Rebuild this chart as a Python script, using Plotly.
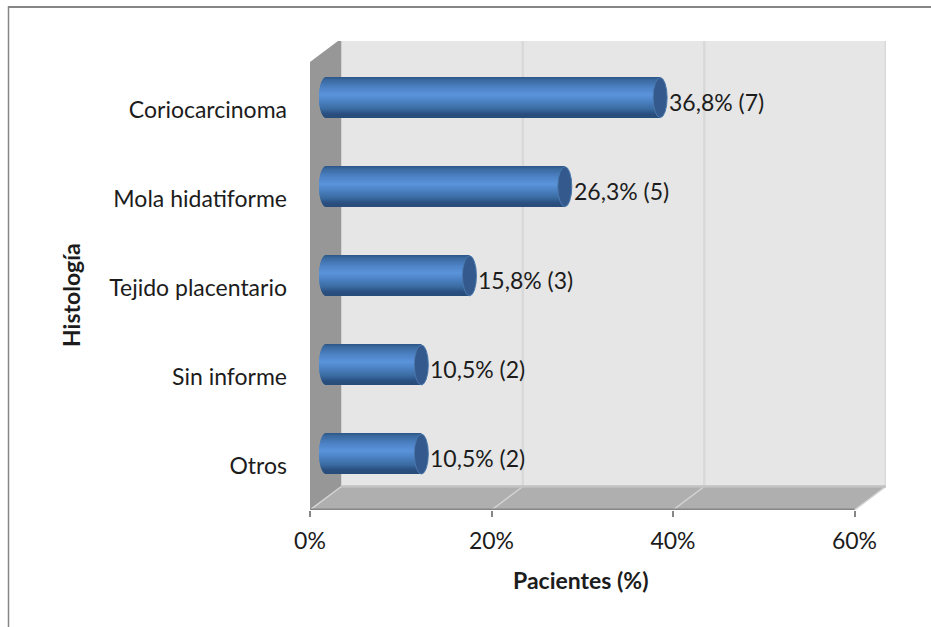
import math
import plotly.graph_objects as go

# Histology groups, top to bottom, with patient share (%) and patient count
categories = ["Coriocarcinoma", "Mola hidatiforme", "Tejido placentario", "Sin informe", "Otros"]
percent = [36.8, 26.3, 15.8, 10.5, 10.5]
counts = [7, 5, 3, 2, 2]
x_ticks = [0, 20, 40, 60]
x_tick_labels = ["0%", "20%", "40%", "60%"]

W, H = 931, 627
LEFT, RIGHT, TOP, BOTTOM = 310, 886, 41, 510   # plot box holding the whole 3D frame
PX_PER_PCT = 9.075
PX_PER_CAT = 89.0
FRONT_TOP = 62                                 # top of the box's front plane
DEPTH_X, DEPTH_Y = 3.45, 23.5 / PX_PER_CAT     # depth of the box in axis units

# Cylinders sit mid-depth, so they get their own slightly shifted axes
BAR_X0, BAR_PX_PER_PCT = 326, 9.08
BAR_PX_PER_CAT, BAR_BOTTOM_CENTRE = 89.1, 454
BAR_PX_HEIGHT = 40
CAP_PX = 7

INK = "#1c1c1c"
FONT = "Lato"
y_order = categories[::-1]


def paper_x(px):
    return (px - LEFT) / (RIGHT - LEFT)


def paper_y(px):
    return (BOTTOM - px) / (BOTTOM - TOP)


def mix(stops, t):
    for (t0, c0), (t1, c1) in zip(stops, stops[1:]):
        if t <= t1:
            f = (t - t0) / (t1 - t0)
            rgb = [round(c0[k] + (c1[k] - c0[k]) * f) for k in range(3)]
            return f"rgb({rgb[0]},{rgb[1]},{rgb[2]})"
    return f"rgb{stops[-1][1]}"


# Shading across the cylinder, top edge to bottom edge
SHADE = [
    (0.00, (44, 86, 134)),
    (0.08, (58, 106, 160)),
    (0.28, (78, 132, 200)),
    (0.45, (90, 147, 218)),
    (0.60, (76, 131, 196)),
    (0.80, (58, 106, 160)),
    (0.92, (42, 80, 128)),
    (1.00, (40, 76, 122)),
]

fig = go.Figure()

# Horizontal slices with a rounded left end give the cylinder body
BANDS = BAR_PX_HEIGHT
band_h = 1 / BAR_PX_PER_CAT
cap_pct = CAP_PX / BAR_PX_PER_PCT
for i in range(BANDS):
    t = (i + 0.5) / BANDS
    bulge = cap_pct * math.sqrt(max(0.0, 1 - (2 * t - 1) ** 2))
    fig.add_trace(go.Bar(
        orientation="h",
        y=categories,
        x=[v + bulge for v in percent],
        base=bulge * -1,
        width=band_h * 1.25,
        offset=(BANDS / 2 - i - 1) * band_h,
        marker=dict(color=mix(SHADE, t), line=dict(width=0)),
        xaxis="x2",
        yaxis="y2",
        hoverinfo="skip",
        showlegend=False,
    ))

shapes = []


def wall(points, fill):
    path = "M " + " L ".join(f"{x},{y}" for x, y in points) + " Z"
    shapes.append(dict(type="path", path=path, xref="x", yref="y", layer="below",
                       fillcolor=fill, line=dict(width=0)))


def rule(x0, y0, x1, y1, color, width):
    shapes.append(dict(type="line", x0=x0, y0=y0, x1=x1, y1=y1, xref="x", yref="y",
                       layer="below", line=dict(color=color, width=width)))


y_lo, y_hi = -0.5, -0.5 + (BOTTOM - FRONT_TOP) / PX_PER_CAT
x_hi = x_ticks[-1]

# Back wall, side wall and floor of the box
wall([(DEPTH_X, y_lo + DEPTH_Y), (x_hi + DEPTH_X, y_lo + DEPTH_Y),
      (x_hi + DEPTH_X, y_hi + DEPTH_Y), (DEPTH_X, y_hi + DEPTH_Y)], "#e6e6e6")
wall([(0, y_lo), (DEPTH_X, y_lo + DEPTH_Y), (DEPTH_X, y_hi + DEPTH_Y), (0, y_hi)], "#979797")
wall([(0, y_lo), (x_hi, y_lo), (x_hi + DEPTH_X, y_lo + DEPTH_Y), (DEPTH_X, y_lo + DEPTH_Y)], "#afafaf")

# Gridlines run up the back wall and forward across the floor
for tick in x_ticks:
    if tick > 0:
        rule(tick + DEPTH_X, y_lo + DEPTH_Y, tick + DEPTH_X, y_hi + DEPTH_Y, "#d9d9d9", 2.5)
    rule(tick, y_lo, tick + DEPTH_X, y_lo + DEPTH_Y, "#d4d4d4", 1.5)
rule(DEPTH_X, y_hi + DEPTH_Y, x_hi + DEPTH_X, y_hi + DEPTH_Y, "#dddddd", 1.5)
rule(DEPTH_X, y_lo + DEPTH_Y, x_hi + DEPTH_X, y_lo + DEPTH_Y, "#c2c2c2", 2.5)
rule(0, y_lo, x_hi, y_lo, "#868686", 3)

# Flat end of each cylinder
cat_span = (BAR_PX_HEIGHT / 2) / BAR_PX_PER_CAT
for pos, v in zip(range(len(categories)), percent):
    level = len(categories) - 1 - pos
    shapes.append(dict(type="circle", xref="x2", yref="y2", layer="above",
                       x0=v - cap_pct, x1=v + cap_pct,
                       y0=level - cat_span, y1=level + cat_span,
                       fillcolor="#34598c", line=dict(color="#4a78ad", width=1)))

# Outer chart frame, open at the right and at the bottom
frame = "#868686"
shapes.append(dict(type="line", xref="paper", yref="paper", layer="above",
                   x0=paper_x(8), x1=paper_x(W), y0=paper_y(7), y1=paper_y(7),
                   line=dict(color=frame, width=2)))
shapes.append(dict(type="line", xref="paper", yref="paper", layer="above",
                   x0=paper_x(8.5), x1=paper_x(8.5), y0=paper_y(6), y1=paper_y(H),
                   line=dict(color=frame, width=1.5)))

# Value labels beside the cylinders
annotations = []
for name, v, n in zip(categories, percent, counts):
    annotations.append(dict(
        x=v, y=name, xref="x2", yref="y2",
        text=f"{v:.1f}".replace(".", ",") + f"% ({n})",
        showarrow=False, xanchor="left", yanchor="middle",
        xshift=CAP_PX, yshift=-4,
        font=dict(family=FONT, size=23, color=INK),
    ))

# Axis titles
annotations.append(dict(
    x=paper_x(581), y=paper_y(580), xref="paper", yref="paper",
    text="<b>Pacientes (%)</b>", showarrow=False, xanchor="center", yanchor="middle",
    font=dict(family=FONT, size=23, color=INK),
))
annotations.append(dict(
    x=paper_x(71), y=paper_y(295), xref="paper", yref="paper",
    text="<b>Histología</b>", textangle=-90, showarrow=False, xanchor="center", yanchor="middle",
    font=dict(family=FONT, size=23, color=INK),
))

fig.update_layout(
    width=W,
    height=H,
    autosize=False,
    margin=dict(l=LEFT, r=W - RIGHT, t=TOP, b=H - BOTTOM, pad=0),
    paper_bgcolor="white",
    plot_bgcolor="rgba(0,0,0,0)",
    barmode="overlay",
    showlegend=False,
    font=dict(family=FONT, size=23, color=INK),
    shapes=shapes,
    annotations=annotations,
    xaxis=dict(
        range=[0, (RIGHT - LEFT) / PX_PER_PCT],
        tickmode="array", tickvals=x_ticks, ticktext=x_tick_labels,
        ticks="outside", ticklen=6, tickwidth=2, tickcolor="#868686",
        ticklabelstandoff=4,
        showgrid=False, zeroline=False, showline=False,
    ),
    yaxis=dict(
        type="category",
        categoryorder="array", categoryarray=y_order,
        range=[-0.5, -0.5 + (BOTTOM - TOP) / PX_PER_CAT],
        ticks="", ticklabelstandoff=22,
        showgrid=False, zeroline=False, showline=False,
    ),
    xaxis2=dict(
        overlaying="x", anchor="y2", visible=False,
        range=[(LEFT - BAR_X0) / BAR_PX_PER_PCT, (RIGHT - BAR_X0) / BAR_PX_PER_PCT],
    ),
    yaxis2=dict(
        overlaying="y", anchor="x2", visible=False, type="category",
        categoryorder="array", categoryarray=y_order,
        range=[-(BOTTOM - BAR_BOTTOM_CENTRE) / BAR_PX_PER_CAT,
               (BAR_BOTTOM_CENTRE - TOP) / BAR_PX_PER_CAT],
    ),
)

fig.write_html("out.html")
